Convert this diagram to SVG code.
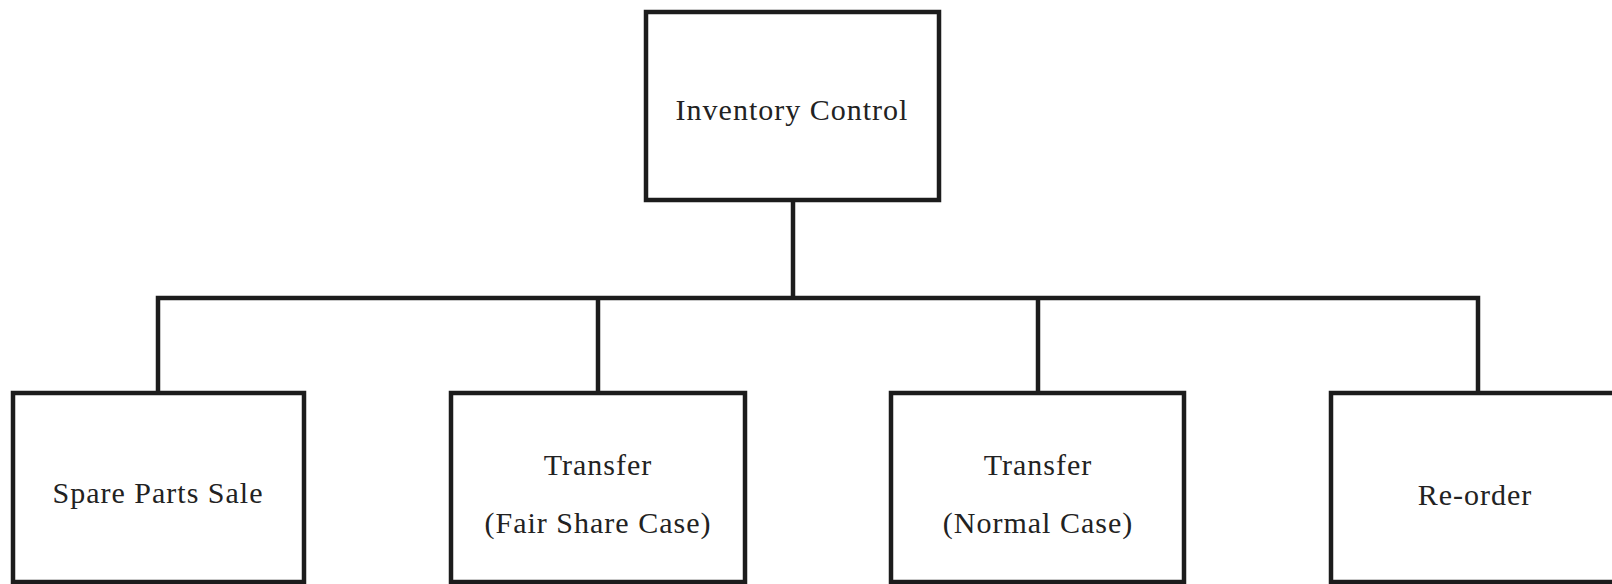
<svg xmlns="http://www.w3.org/2000/svg" width="1612" height="584" viewBox="0 0 1612 584">
<style>
.box{fill:#fff;stroke:#1c1c1c;stroke-width:4.5}
.con{fill:none;stroke:#1c1c1c;stroke-width:4.5}
text{font-family:"Liberation Serif","Times New Roman",serif;font-size:30px;fill:#222;text-anchor:middle;letter-spacing:1px}
</style>
<rect width="1612" height="584" fill="#fff"/>
<g id="connectors">
<line class="con" x1="793" y1="200" x2="793" y2="298"/>
<polyline class="con" points="158,393 158,298 1478,298 1478,393"/>
<line class="con" x1="598" y1="298" x2="598" y2="393"/>
<line class="con" x1="1038" y1="298" x2="1038" y2="393"/>
</g>
<g id="inventory-control">
<rect class="box" x="646" y="12" width="293" height="188"/>
<text x="792" y="120">Inventory Control</text>
</g>
<g id="spare-parts-sale">
<rect class="box" x="13" y="393" width="291" height="189"/>
<text x="158" y="503">Spare Parts Sale</text>
</g>
<g id="transfer-fair-share">
<rect class="box" x="451" y="393" width="294" height="189"/>
<text x="598" y="475">Transfer</text>
<text x="598" y="533">(Fair Share Case)</text>
</g>
<g id="transfer-normal">
<rect class="box" x="891" y="393" width="293" height="189"/>
<text x="1038" y="475">Transfer</text>
<text x="1038" y="533">(Normal Case)</text>
</g>
<g id="re-order">
<rect class="box" x="1331" y="393" width="293" height="189"/>
<text x="1475" y="505">Re-order</text>
</g>
</svg>
